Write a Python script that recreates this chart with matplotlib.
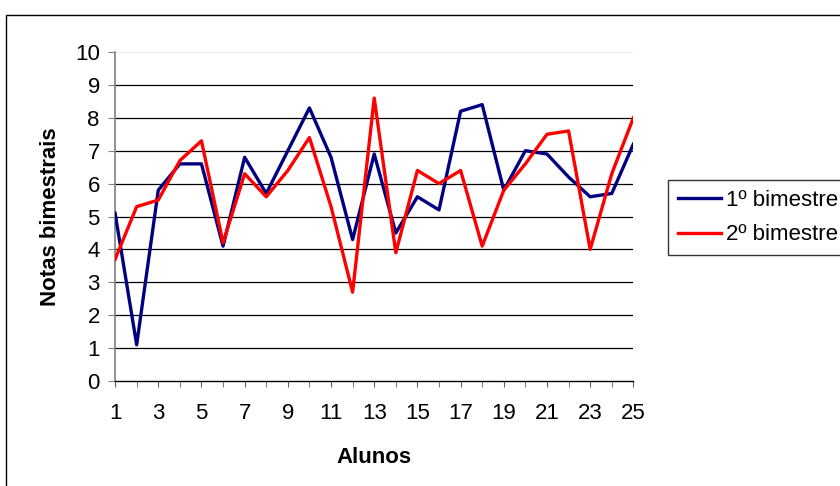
import matplotlib.pyplot as plt
from matplotlib.patches import Rectangle

plt.rcParams['font.family'] = ['Liberation Sans', 'DejaVu Sans']

# data
alunos = list(range(1, 26))
bim1 = [5.1, 1.1, 5.8, 6.6, 6.6, 4.1, 6.8, 5.7, 7.0, 8.3, 6.8, 4.3, 6.9, 4.5, 5.6,
        5.2, 8.2, 8.4, 5.8, 7.0, 6.9, 6.2, 5.6, 5.7, 7.2]
bim2 = [3.7, 5.3, 5.5, 6.7, 7.3, 4.2, 6.3, 5.6, 6.4, 7.4, 5.3, 2.7, 8.6, 3.9, 6.4,
        6.0, 6.4, 4.1, 5.8, 6.6, 7.5, 7.6, 4.0, 6.3, 8.0]
series_names = ['1º bimestre', '2º bimestre']
yticks = list(range(0, 11))
xticklabels = [str(i) for i in range(1, 26, 2)]


fig = plt.figure(figsize=(8.4, 4.86), dpi=100)
ax = fig.add_axes([0.137, 0.216, 0.617, 0.677])

# outer chart border (cut off on right/bottom like the reference)
fig.patches.append(Rectangle((6 / 840, -0.1), 1.2, 471 / 486 + 0.1,
                             transform=fig.transFigure, fill=False,
                             edgecolor='black', linewidth=1.0))

for y in yticks[1:-1]:
    ax.axhline(y, color='black', linewidth=0.9, zorder=1)
ax.axhline(10, color='#eeeeee', linewidth=0.9, zorder=1)

ax.plot(alunos, bim1, color='#000080', linewidth=2.4, label=series_names[0], zorder=3)
ax.plot(alunos, bim2, color='#ff0000', linewidth=2.4, label=series_names[1], zorder=3)

ax.set_xlim(1, 25)
ax.set_ylim(0, 10)
ax.set_yticks(yticks)
ax.set_xticks(alunos, minor=True)
ax.set_xticks(range(1, 26, 2))
ax.set_xticklabels(xticklabels)
ax.tick_params(axis='both', labelsize=16, direction='out')
ax.tick_params(axis='y', length=5, color='#808080', pad=6)
ax.tick_params(axis='x', which='both', length=4.5, color='#606060', pad=11)

for s in ['top', 'right']:
    ax.spines[s].set_visible(False)
ax.spines['left'].set_color('#808080')
ax.spines['left'].set_linewidth(1.2)
ax.spines['bottom'].set_color('black')
ax.spines['bottom'].set_linewidth(1.0)

ax.set_xlabel('Alunos', fontsize=16, fontweight='bold', labelpad=17)
ax.set_ylabel('Notas bimestrais', fontsize=16, fontweight='bold', labelpad=10)

leg = ax.legend(loc='upper left', bbox_to_anchor=(668 / 840, 1 - 180 / 486),
                bbox_transform=fig.transFigure, borderaxespad=0, fontsize=16,
                frameon=True, fancybox=False, handlelength=1.95, handletextpad=0.2,
                labelspacing=0.6, borderpad=0.45)
leg.get_frame().set_edgecolor('black')
leg.get_frame().set_linewidth(1.0)

fig.savefig('out.png', dpi=100)
